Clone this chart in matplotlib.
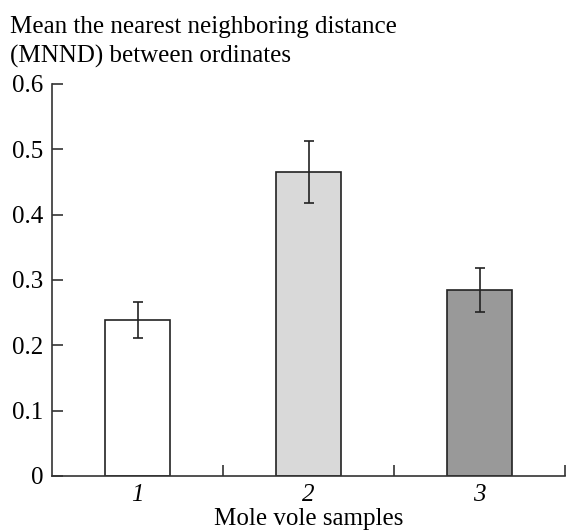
import matplotlib
matplotlib.use("Agg")
import matplotlib.pyplot as plt
import numpy as np

categories = ["1", "2", "3"]
means = [0.239, 0.465, 0.285]
errors = [0.028, 0.047, 0.034]
colors = ["#ffffff", "#d9d9d9", "#999999"]
yticks = [0, 0.1, 0.2, 0.3, 0.4, 0.5, 0.6]
ytick_labels = ["0", "0.1", "0.2", "0.3", "0.4", "0.5", "0.6"]

plt.rcParams['font.family'] = ['Liberation Serif']
fs = 18

fig = plt.figure(figsize=(5.66, 5.31), dpi=100)
ax = fig.add_axes([52/566, 55/531, (565-52)/566, (476-84)/531])

x = np.arange(1, len(categories) + 1)
ax.bar(x, means, width=0.385, color=colors, edgecolor="#222222", linewidth=1.2, zorder=2)
ax.errorbar(x, means, yerr=errors, fmt='none', ecolor="#222222", elinewidth=1.2, capsize=3.6, capthick=1.2, zorder=3)

ax.set_xlim(0.5, 3.5)
ax.set_ylim(0, 0.6)
ax.set_yticks(yticks)
ax.set_yticklabels(ytick_labels, fontsize=fs)
ax.set_xticks(x)
ax.set_xticklabels(categories, fontsize=fs, style='italic')
ax.set_xticks([1.5, 2.5, 3.5], minor=True)
ax.tick_params(axis='x', which='major', length=0, pad=6)
ax.tick_params(axis='x', which='minor', direction='in', length=8, width=1.2, color="#333333")
ax.tick_params(axis='y', direction='in', length=8, width=1.2, color="#333333", pad=6)

for s in ['top', 'right']:
    ax.spines[s].set_visible(False)
for s in ['left', 'bottom']:
    ax.spines[s].set_color("#333333")
    ax.spines[s].set_linewidth(1.2)

ax.set_xlabel("Mole vole samples", fontsize=fs, labelpad=1)
fig.text(10/566, 1 - 33/531, "Mean the nearest neighboring distance", fontsize=fs, ha='left', va='baseline')
fig.text(10/566, 1 - 63/531, "(MNND) between ordinates", fontsize=fs, ha='left', va='baseline')

fig.savefig("out.png", dpi=100)
